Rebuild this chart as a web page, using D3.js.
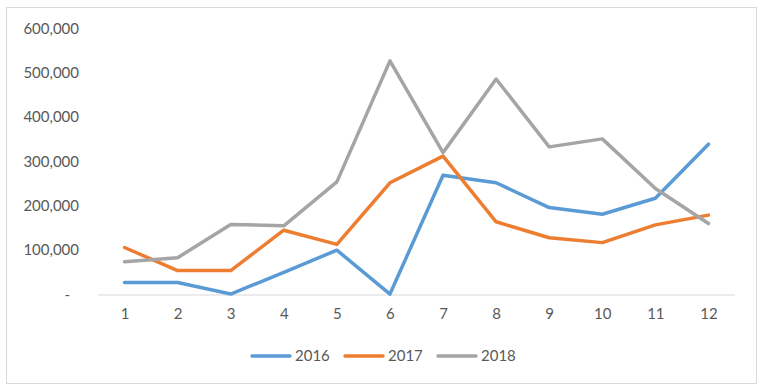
<!DOCTYPE html>
<html>
<head>
<meta charset="utf-8">
<script src="https://cdn.jsdelivr.net/npm/d3@7"></script>
<style>
  body { margin: 0; background: #fff; }
  text { font-family: Lato, "Open Sans", sans-serif; fill: #595959; }
</style>
</head>
<body>
<script>
// months on the x axis
const months = ['1', '2', '3', '4', '5', '6', '7', '8', '9', '10', '11', '12']
const yTicks = [0, 100000, 200000, 300000, 400000, 500000, 600000]

const s2016 = [27000, 27000, 1000, 50000, 100000, 1000, 269000, 252000, 196000, 181000, 217000, 339000]
const s2017 = [106000, 54000, 54000, 145000, 113000, 252000, 312000, 164000, 128000, 117000, 157000, 179000]
const s2018 = [74000, 83000, 158000, 155000, 254000, 527000, 320000, 486000, 333000, 351000, 239000, 160000]

const seriesNames = ['2016', '2017', '2018']
const seriesColors = ['#5b9bd5', '#ed7d31', '#a5a5a5']

const width = 769, height = 385
const series = [s2016, s2017, s2018].map((values, i) => ({ name: seriesNames[i], color: seriesColors[i], values }))

const svg = d3.select('body').append('svg')
  .attr('width', width)
  .attr('height', height)

// chart area border
svg.append('rect')
  .attr('x', 6.5).attr('y', 7.5)
  .attr('width', 750).attr('height', 376)
  .attr('fill', '#fff')
  .attr('stroke', '#d9d9d9')

const x = d3.scalePoint().domain(months).range([98, 735]).padding(0.5)
const y = d3.scaleLinear().domain([0, 600000]).range([294.5, 28.5])

// y labels (no gridlines in the original)
const fmt = d3.format(',')
svg.append('g').selectAll('text')
  .data(yTicks)
  .join('text')
  .attr('x', d => d === 0 ? 70 : 79)
  .attr('y', d => y(d))
  .attr('dy', '0.35em')
  .attr('text-anchor', 'end')
  .attr('font-size', 15)
  .text(d => d === 0 ? '-' : fmt(d))

// x axis line + labels
const xAxis = svg.append('g')
  .attr('transform', `translate(0,${y(0)})`)
  .call(d3.axisBottom(x).tickSize(0).tickPadding(14))
xAxis.select('.domain')
  .attr('d', 'M98,0.5H735')
  .attr('stroke', '#d9d9d9')
xAxis.selectAll('text')
  .attr('font-size', 15)
  .attr('fill', '#595959')
  .style('font-family', 'Lato, "Open Sans", sans-serif')

const line = d3.line()
  .x((d, i) => x(months[i]))
  .y(d => y(d))

svg.append('g').selectAll('path')
  .data(series)
  .join('path')
  .attr('d', d => line(d.values))
  .attr('fill', 'none')
  .attr('stroke', d => d.color)
  .attr('stroke-width', 3.5)
  .attr('stroke-linejoin', 'round')
  .attr('stroke-linecap', 'round')

// legend
const legend = svg.append('g')
  .selectAll('g')
  .data(series)
  .join('g')
  .attr('transform', (d, i) => `translate(${252 + i * 93},356)`)
legend.append('line')
  .attr('x1', 0).attr('x2', 38)
  .attr('stroke', d => d.color)
  .attr('stroke-width', 3.5)
  .attr('stroke-linecap', 'round')
legend.append('text')
  .attr('x', 43)
  .attr('dy', '0.35em')
  .attr('font-size', 15)
  .text(d => d.name)
</script>
</body>
</html>
